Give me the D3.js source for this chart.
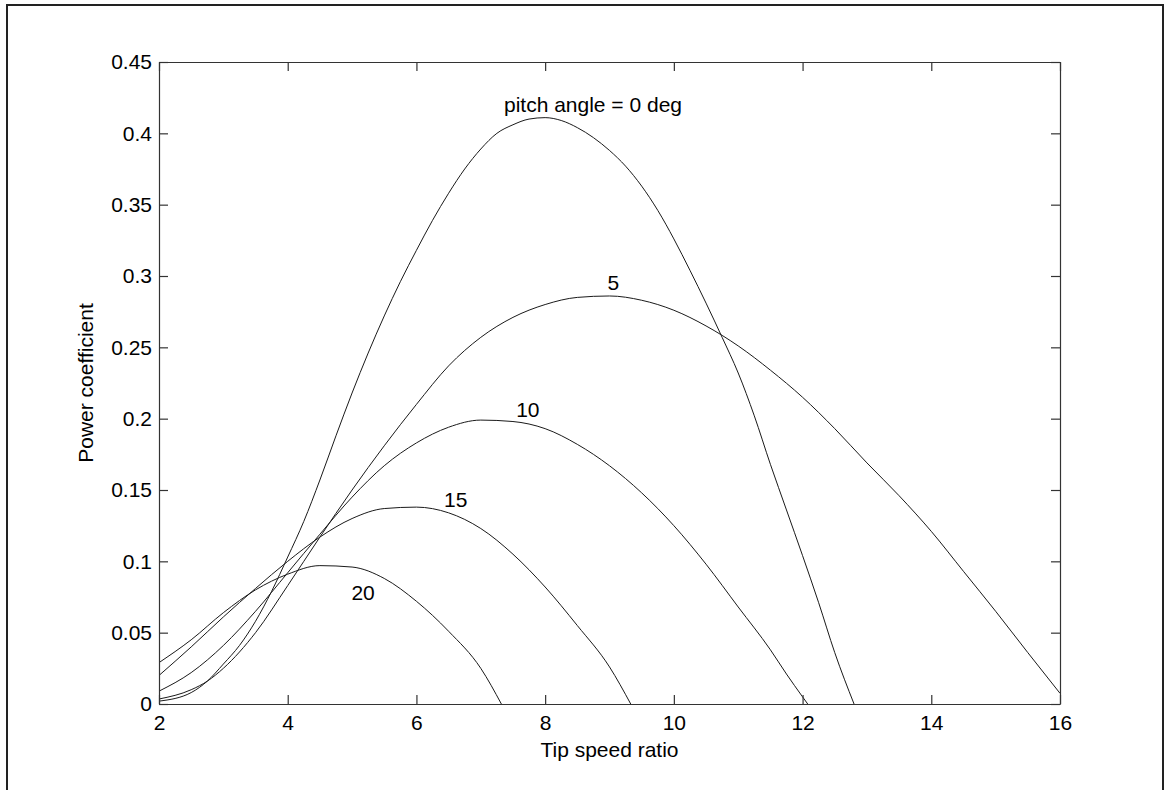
<!DOCTYPE html>
<html>
<head>
<meta charset="utf-8">
<script src="https://cdn.jsdelivr.net/npm/d3@7"></script>
<style>
  html, body { margin: 0; padding: 0; background: #fff; }
  svg { display: block; }
  text { font-family: "Liberation Sans", Arial, Helvetica, sans-serif; fill: #000; }
</style>
</head>
<body>
<svg id="chart" width="1166" height="790"></svg>
<script>
// ---------------- data ----------------
const xTicks = [2, 4, 6, 8, 10, 12, 14, 16];
const xTickLabels = ["2", "4", "6", "8", "10", "12", "14", "16"];
const yTicks = [0, 0.05, 0.1, 0.15, 0.2, 0.25, 0.3, 0.35, 0.4, 0.45];
const yTickLabels = ["0", "0.05", "0.1", "0.15", "0.2", "0.25", "0.3", "0.35", "0.4", "0.45"];

const pitchAngles = [0, 5, 10, 15, 20];

// pitch angle = 0 deg
const tsr0 = [2.0, 2.5, 2.75, 3.0, 3.25, 3.5, 3.75, 4.0, 4.25, 4.5, 4.75, 5.0, 5.25, 5.5, 5.75, 6.0, 6.25, 6.5, 6.75, 7.0, 7.25, 7.5, 7.75, 8.0, 8.25, 8.5, 8.75, 9.0, 9.25, 9.5, 9.75, 10.0, 10.25, 10.5, 10.75, 11.0, 11.25, 11.5, 11.75, 12.0, 12.25, 12.5, 12.8];
const cp0  = [0.002, 0.008, 0.016, 0.028, 0.041, 0.058, 0.079, 0.103, 0.128, 0.157, 0.188, 0.218, 0.246, 0.272, 0.296, 0.318, 0.339, 0.358, 0.375, 0.389, 0.400, 0.406, 0.410, 0.411, 0.409, 0.404, 0.397, 0.388, 0.377, 0.363, 0.346, 0.326, 0.304, 0.281, 0.257, 0.232, 0.202, 0.168, 0.136, 0.104, 0.071, 0.036, 0.0];

// 5 deg
const tsr5 = [2.0, 2.5, 2.75, 3.0, 3.5, 4.0, 4.5, 5.0, 5.5, 6.0, 6.5, 7.0, 7.5, 8.0, 8.5, 9.0, 9.5, 10.0, 10.5, 11.0, 11.5, 12.0, 12.5, 13.0, 13.5, 14.0, 14.5, 15.0, 15.5, 16.0];
const cp5  = [0.0035, 0.010, 0.016, 0.025, 0.050, 0.083, 0.117, 0.150, 0.181, 0.210, 0.237, 0.257, 0.271, 0.280, 0.285, 0.286, 0.283, 0.276, 0.265, 0.251, 0.234, 0.215, 0.193, 0.169, 0.146, 0.121, 0.093, 0.065, 0.036, 0.0075];

// 10 deg
const tsr10 = [2.0, 2.5, 3.0, 3.5, 4.0, 4.5, 5.0, 5.5, 6.0, 6.5, 7.0, 7.5, 8.0, 8.5, 9.0, 9.5, 10.0, 10.5, 11.0, 11.5, 11.75, 12.0, 12.08];
const cp10  = [0.009, 0.022, 0.041, 0.065, 0.092, 0.119, 0.145, 0.167, 0.183, 0.194, 0.199, 0.198, 0.193, 0.182, 0.167, 0.148, 0.125, 0.098, 0.068, 0.038, 0.021, 0.005, 0.0];

// 15 deg
const tsr15 = [2.0, 2.5, 3.0, 3.5, 4.0, 4.5, 5.0, 5.5, 6.0, 6.5, 7.0, 7.5, 8.0, 8.5, 9.0, 9.33];
const cp15  = [0.020, 0.040, 0.061, 0.081, 0.100, 0.117, 0.130, 0.137, 0.138, 0.134, 0.123, 0.105, 0.082, 0.055, 0.026, 0.0];

// 20 deg
const tsr20 = [2.0, 2.5, 3.0, 3.5, 4.0, 4.5, 5.0, 5.5, 6.0, 6.5, 7.0, 7.32];
const cp20  = [0.029, 0.045, 0.064, 0.080, 0.091, 0.097, 0.096, 0.088, 0.072, 0.051, 0.025, 0.0];

// curve annotations (data coordinates)
const labelTexts = ["pitch angle = 0 deg", "5", "10", "15", "20"];
const labelTsr = [7.36, 8.97, 7.55, 6.43, 4.99];
const labelCp = [0.415, 0.290, 0.201, 0.1383, 0.0729];

const xTitle = "Tip speed ratio";
const yTitle = "Power coefficient";

// ---------------- drawing ----------------
const svg = d3.select("#chart");
const W = 1166, H = 790;
const margin = { left: 159, right: W - 1060, top: 62, bottom: H - 704 };
const x = d3.scaleLinear().domain([2, 16]).range([margin.left, W - margin.right]);
const y = d3.scaleLinear().domain([0, 0.45]).range([H - margin.bottom, margin.top]);

const FONT = 21;
const axisColor = "#333";

// figure frame
svg.append("path")
  .attr("d", `M7,${H} V5 H1163 V${H}`)
  .attr("fill", "none").attr("stroke", "#222").attr("stroke-width", 2);

// curves
const series = [
  { tsr: tsr0, cp: cp0 },
  { tsr: tsr5, cp: cp5 },
  { tsr: tsr10, cp: cp10 },
  { tsr: tsr15, cp: cp15 },
  { tsr: tsr20, cp: cp20 }
];
const line = d3.line().x(d => x(d[0])).y(d => y(d[1])).curve(d3.curveMonotoneX);
series.forEach(s => {
  svg.append("path")
    .datum(d3.zip(s.tsr, s.cp))
    .attr("d", line)
    .attr("fill", "none")
    .attr("stroke", "#1a1a1a")
    .attr("stroke-width", 1);
});

// axes
function styleAxis(g) {
  g.select(".domain").attr("stroke", axisColor).attr("stroke-width", 1.2);
  g.selectAll(".tick line").attr("stroke", axisColor).attr("stroke-width", 1.2);
  g.selectAll(".tick text").style("font-size", FONT + "px").attr("fill", "#000")
    .style("font-family", '"Liberation Sans", Arial, Helvetica, sans-serif');
}

svg.append("g")
  .attr("transform", `translate(0,${y(0)})`)
  .call(d3.axisBottom(x).tickValues(xTicks).tickFormat((d, i) => xTickLabels[i]).tickSize(-9).tickSizeOuter(0).tickPadding(11))
  .call(styleAxis);

svg.append("g")
  .attr("transform", `translate(0,${y(0.45)})`)
  .call(d3.axisTop(x).tickValues(xTicks).tickFormat("").tickSize(-9).tickSizeOuter(0))
  .call(styleAxis);

svg.append("g")
  .attr("transform", `translate(${x(2)},0)`)
  .call(d3.axisLeft(y).tickValues(yTicks).tickFormat((d, i) => yTickLabels[i]).tickSize(-9).tickSizeOuter(0).tickPadding(7))
  .call(styleAxis);

svg.append("g")
  .attr("transform", `translate(${x(16)},0)`)
  .call(d3.axisRight(y).tickValues(yTicks).tickFormat("").tickSize(-9).tickSizeOuter(0))
  .call(styleAxis);

// curve labels
svg.selectAll("text.curve-label")
  .data(labelTexts)
  .enter().append("text")
  .attr("class", "curve-label")
  .attr("x", (d, i) => x(labelTsr[i]))
  .attr("y", (d, i) => y(labelCp[i]))
  .style("font-size", FONT + "px")
  .text(d => d);

// axis titles
svg.append("text")
  .attr("x", (x(2) + x(16)) / 2)
  .attr("y", 757)
  .attr("text-anchor", "middle")
  .style("font-size", FONT + "px")
  .text(xTitle);

svg.append("text")
  .attr("transform", `translate(93,${(y(0) + y(0.45)) / 2}) rotate(-90)`)
  .attr("text-anchor", "middle")
  .style("font-size", FONT + "px")
  .text(yTitle);
</script>
</body>
</html>
